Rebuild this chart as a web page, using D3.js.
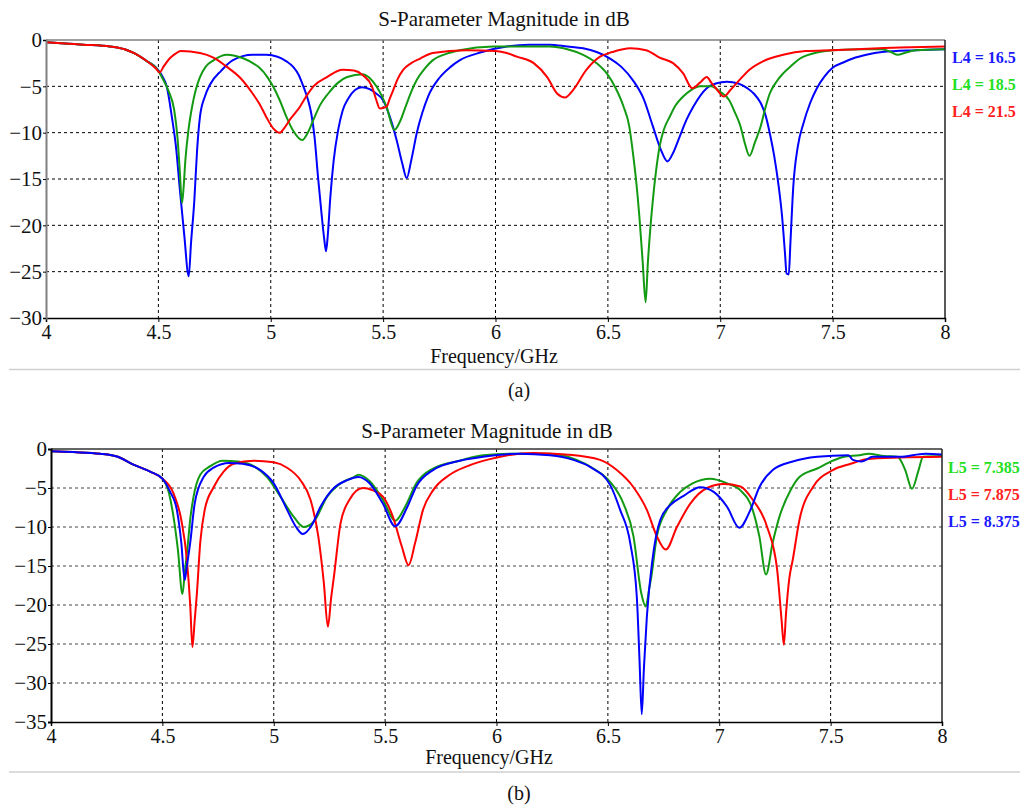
<!DOCTYPE html>
<html>
<head>
<meta charset="utf-8">
<script src="https://cdn.jsdelivr.net/npm/d3@7"></script>
<style>
  body { margin: 0; background: #fff; }
  svg { display: block; }
  svg text { font-family: "Liberation Serif", "Times New Roman", Times, serif !important; }
  .grid line { stroke-width: 1; stroke-dasharray: 3,3; }
  .curve { fill: none; stroke-width: 2; stroke-linejoin: round; }
</style>
</head>
<body>
<svg id="chart" width="1025" height="808"></svg>
<script>
// ---- data (frequency GHz, S11 dB) ----
const freqTicks = [4, 4.5, 5, 5.5, 6, 6.5, 7, 7.5, 8];
const dbTicksA = [0, -5, -10, -15, -20, -25, -30];
const dbTicksB = [0, -5, -10, -15, -20, -25, -30, -35];

const legendA = ["L4 = 16.5", "L4 = 18.5", "L4 = 21.5"];
const legendB = ["L5 = 7.385", "L5 = 7.875", "L5 = 8.375"];

const a_L4_165 = [[4.00,-0.25],[4.10,-0.4],[4.165,-0.5],[4.285,-0.7],[4.35,-1.0],[4.39,-1.4],[4.45,-2.3],[4.49,-3.0],
  [4.52,-4.0],[4.537,-5.0],[4.56,-8.3],[4.58,-11.9],[4.595,-16],[4.615,-21],[4.635,-25.5],[4.645,-22],[4.66,-17.3],
  [4.672,-12],[4.685,-8.3],[4.707,-6.1],[4.73,-4.8],[4.78,-3.3],[4.83,-2.2],[4.92,-1.6],[4.98,-1.6],[5.03,-1.8],
  [5.07,-2.3],[5.10,-2.9],[5.125,-3.8],[5.145,-5.0],[5.165,-6.4],[5.18,-7.9],[5.195,-10.5],[5.21,-14.7],[5.225,-18.5],
  [5.238,-21.5],[5.246,-22.8],[5.254,-21],[5.265,-17],[5.28,-13],[5.30,-9.7],[5.32,-7.6],[5.345,-6.3],[5.375,-5.4],
  [5.405,-5.1],[5.44,-5.3],[5.47,-5.8],[5.50,-6.5],[5.53,-8.3],[5.56,-10.8],[5.585,-13.3],[5.605,-14.9],[5.625,-13],
  [5.65,-10],[5.675,-7.8],[5.70,-6.1],[5.75,-4.1],[5.80,-2.9],[5.84,-2.2],[5.94,-1.3],[6.05,-0.7],[6.15,-0.5],
  [6.24,-0.5],[6.32,-0.7],[6.39,-0.9],[6.45,-1.3],[6.51,-2.0],[6.56,-2.9],[6.61,-4.3],[6.66,-6.4],[6.70,-9.3],
  [6.735,-11.8],[6.765,-13.1],[6.79,-12.2],[6.82,-10.4],[6.85,-8.6],[6.88,-7.2],[6.94,-5.2],[6.98,-4.7],[7.03,-4.5],
  [7.08,-4.7],[7.12,-5.2],[7.15,-5.8],[7.18,-6.8],[7.20,-8.0],[7.22,-10],[7.24,-12.5],[7.26,-15.8],[7.275,-19],
  [7.288,-23],[7.295,-25.2],[7.305,-25.3],[7.312,-22],[7.325,-15.8],[7.345,-11.5],[7.37,-9.0],[7.40,-6.8],[7.43,-5.2],
  [7.465,-3.9],[7.50,-3.0],[7.55,-2.4],[7.59,-2.0],[7.65,-1.6],[7.72,-1.3],[7.87,-1.1],[8.0,-1.0]];

const a_L4_185 = [[4.00,-0.25],[4.10,-0.4],[4.165,-0.5],[4.285,-0.7],[4.35,-1.0],[4.39,-1.4],[4.45,-2.3],[4.49,-3.0],
  [4.52,-4.2],[4.545,-5.5],[4.57,-7.5],[4.585,-10.5],[4.595,-14],[4.605,-17.6],[4.612,-16],[4.62,-13],[4.635,-9.5],
  [4.65,-7.2],[4.665,-5.5],[4.685,-4.0],[4.71,-2.9],[4.745,-2.2],[4.805,-1.6],[4.84,-1.7],[4.88,-2.0],[4.92,-2.5],
  [4.95,-3.0],[4.985,-4.0],[5.01,-5.0],[5.04,-6.5],[5.07,-8.3],[5.10,-9.8],[5.14,-10.8],[5.165,-10],[5.19,-8.6],
  [5.22,-7.0],[5.255,-5.8],[5.30,-4.6],[5.34,-4.0],[5.41,-3.7],[5.435,-4.0],[5.455,-4.5],[5.485,-5.6],[5.515,-7.2],
  [5.55,-9.7],[5.575,-8.8],[5.60,-7.2],[5.625,-5.6],[5.65,-4.3],[5.685,-3.1],[5.72,-2.2],[5.78,-1.5],[5.84,-1.1],
  [5.99,-0.7],[6.24,-0.7],[6.32,-1.0],[6.39,-1.6],[6.45,-2.5],[6.495,-3.6],[6.535,-5.2],[6.57,-7.2],[6.595,-9.3],
  [6.61,-11.9],[6.625,-15],[6.64,-19],[6.655,-24],[6.668,-28.3],[6.678,-24],[6.69,-20],[6.70,-17.3],[6.715,-14],
  [6.73,-11.5],[6.75,-9.6],[6.775,-8.3],[6.80,-7.1],[6.835,-6.1],[6.87,-5.4],[6.91,-5.0],[6.96,-5.0],[7.00,-5.6],
  [7.04,-6.5],[7.065,-7.8],[7.09,-9.3],[7.11,-11.2],[7.13,-12.5],[7.155,-11],[7.18,-9.3],[7.20,-7.4],[7.22,-5.8],
  [7.25,-4.5],[7.28,-3.6],[7.32,-2.7],[7.355,-2.0],[7.44,-1.3],[7.50,-1.1],[7.65,-1.0],[7.72,-1.0],[7.76,-1.3],
  [7.79,-1.6],[7.82,-1.4],[7.87,-1.1],[8.0,-1.0]];

const a_L4_215 = [[4.00,-0.25],[4.10,-0.4],[4.165,-0.5],[4.285,-0.7],[4.35,-1.0],[4.39,-1.4],[4.45,-2.3],[4.49,-3.1],
  [4.505,-3.5],[4.525,-2.8],[4.55,-2.0],[4.575,-1.5],[4.60,-1.2],[4.685,-1.4],[4.745,-1.9],[4.805,-2.9],[4.865,-4.1],
  [4.92,-5.8],[4.95,-6.9],[4.98,-8.3],[5.01,-9.5],[5.04,-10],[5.06,-9.5],[5.085,-8.6],[5.13,-7.2],[5.16,-6.0],
  [5.19,-5.0],[5.25,-4.0],[5.32,-3.2],[5.37,-3.3],[5.41,-3.8],[5.45,-5.0],[5.47,-6.5],[5.485,-7.4],[5.515,-7.2],
  [5.53,-6.3],[5.545,-5.4],[5.565,-4.2],[5.59,-3.2],[5.625,-2.5],[5.665,-2.0],[5.72,-1.4],[5.87,-1.1],[6.0,-1.2],
  [6.05,-1.4],[6.095,-1.8],[6.17,-2.5],[6.23,-4.0],[6.275,-5.8],[6.31,-6.2],[6.345,-5.4],[6.405,-3.2],[6.465,-1.8],
  [6.52,-1.3],[6.60,-0.9],[6.67,-1.1],[6.73,-1.9],[6.79,-2.5],[6.835,-3.6],[6.875,-5.2],[6.91,-4.6],[6.94,-4.0],
  [6.96,-4.6],[6.99,-5.5],[7.015,-6.1],[7.045,-5.4],[7.075,-4.6],[7.13,-3.2],[7.19,-2.3],[7.28,-1.6],[7.38,-1.2],
  [7.50,-1.1],[7.80,-0.8],[8.0,-0.7]];

const b_L5_7385 = [[4.00,-0.3],[4.10,-0.4],[4.22,-0.6],[4.30,-1.0],[4.37,-2.0],[4.445,-2.9],[4.50,-3.8],[4.53,-5.7],
  [4.55,-8.7],[4.57,-13],[4.59,-18.6],[4.60,-16],[4.615,-12],[4.625,-9],[4.64,-6.1],[4.67,-3.3],[4.715,-2.2],
  [4.77,-1.5],[4.84,-1.6],[4.91,-2.2],[4.97,-3.6],[5.03,-6.1],[5.09,-8.7],[5.135,-10.0],[5.18,-9.3],[5.24,-6.1],
  [5.30,-4.4],[5.36,-3.6],[5.38,-3.3],[5.43,-4.1],[5.49,-6.5],[5.545,-9.2],[5.59,-7.4],[5.64,-4.4],[5.715,-2.5],
  [5.835,-1.5],[5.94,-0.8],[6.1,-0.6],[6.24,-0.6],[6.36,-1.4],[6.435,-2.5],[6.51,-4.2],[6.57,-7.0],[6.615,-11.2],
  [6.65,-18.5],[6.67,-20.2],[6.685,-18],[6.695,-16.4],[6.72,-11.2],[6.765,-7.8],[6.825,-5.5],[6.88,-4.4],[6.96,-3.8],
  [7.035,-4.4],[7.095,-5.3],[7.15,-7.8],[7.18,-11.2],[7.21,-16.1],[7.24,-12],[7.27,-8.7],[7.32,-5.3],[7.36,-3.6],
  [7.44,-2.5],[7.51,-1.5],[7.56,-1.0],[7.63,-0.8],[7.67,-0.6],[7.74,-0.9],[7.80,-1.0],[7.835,-2.7],[7.865,-5.1],
  [7.895,-2.7],[7.915,-1.0],[8.0,-0.9]];

const b_L5_7875 = [[4.00,-0.3],[4.10,-0.4],[4.22,-0.6],[4.30,-1.0],[4.37,-2.0],[4.445,-2.9],[4.50,-3.8],[4.55,-5.7],
  [4.585,-9.1],[4.61,-14.2],[4.625,-20],[4.635,-25.4],[4.645,-22],[4.655,-18.5],[4.67,-12],[4.69,-7.8],[4.73,-4.9],
  [4.775,-2.9],[4.82,-1.9],[4.91,-1.5],[5.0,-1.7],[5.06,-2.4],[5.12,-4.0],[5.165,-6.5],[5.20,-11.2],[5.225,-17.2],
  [5.243,-22.8],[5.258,-19],[5.27,-16.4],[5.30,-9.5],[5.34,-6.5],[5.40,-5.0],[5.445,-5.3],[5.49,-6.1],[5.535,-8.7],
  [5.575,-12.5],[5.605,-14.9],[5.635,-12],[5.67,-7.8],[5.715,-5.3],[5.79,-3.3],[5.87,-2.2],[5.97,-1.3],[6.05,-0.8],
  [6.165,-0.5],[6.31,-0.7],[6.465,-1.4],[6.54,-2.7],[6.615,-4.9],[6.675,-7.8],[6.72,-11.2],[6.76,-12.9],[6.81,-10],
  [6.87,-7.0],[6.945,-5.0],[7.02,-4.5],[7.095,-4.8],[7.15,-6.5],[7.215,-10],[7.26,-15.5],[7.28,-22],[7.29,-25.1],
  [7.30,-21],[7.315,-16.5],[7.33,-14.2],[7.36,-9.1],[7.42,-4.9],[7.51,-2.7],[7.59,-1.9],[7.66,-1.3],[7.81,-1.1],
  [8.0,-1.0]];

const b_L5_8375 = [[4.00,-0.3],[4.10,-0.4],[4.22,-0.6],[4.30,-1.0],[4.37,-2.0],[4.445,-2.9],[4.50,-3.8],[4.535,-5.5],
  [4.565,-7.8],[4.585,-12],[4.60,-16.8],[4.61,-15],[4.625,-12],[4.645,-7],[4.685,-3.6],[4.73,-2.4],[4.80,-1.8],
  [4.86,-1.9],[4.94,-2.7],[5.0,-4.4],[5.06,-7.8],[5.10,-10],[5.13,-10.9],[5.17,-9.8],[5.21,-7.4],[5.27,-5.0],
  [5.33,-4.0],[5.38,-3.6],[5.43,-4.4],[5.49,-7.0],[5.545,-9.9],[5.60,-7.4],[5.64,-4.8],[5.715,-2.7],[5.835,-1.5],
  [5.94,-1.0],[6.1,-0.6],[6.24,-0.8],[6.345,-1.4],[6.42,-2.3],[6.51,-4.6],[6.555,-7.8],[6.60,-12],[6.63,-19],
  [6.642,-27],[6.652,-34],[6.662,-28],[6.675,-21.5],[6.70,-14.2],[6.735,-9.1],[6.78,-7.2],[6.84,-6.0],[6.915,-4.9],
  [6.975,-5.5],[7.035,-7.4],[7.09,-10.1],[7.14,-7.8],[7.18,-4.9],[7.24,-2.7],[7.33,-1.6],[7.44,-1.0],[7.58,-0.8],
  [7.60,-1.4],[7.64,-1.6],[7.69,-1.0],[7.81,-1.0],[7.925,-0.6],[8.0,-0.7]];

const blue = "#0000ff", green = "#139a13", red = "#ff0000";
const blueText = "#1a1aff", greenText = "#22e022", redText = "#ff2020";

const svg = d3.select("#chart");

function drawPanel(p) {
  const x = d3.scaleLinear().domain([4, 8]).range([p.left, p.right]);
  const y = d3.scaleLinear().domain([0, p.yMin]).range([p.top, p.bottom]);
  const g = svg.append("g");

  // grid
  const grid = g.append("g").attr("class", "grid");
  grid.selectAll(".gx").data(freqTicks.slice(1, -1)).join("line")
    .attr("x1", d => x(d)).attr("x2", d => x(d))
    .attr("y1", p.top).attr("y2", p.bottom)
    .attr("stroke", "#000");
  grid.selectAll(".gy").data(p.yTicks.slice(1, -1)).join("line")
    .attr("x1", p.left).attr("x2", p.right)
    .attr("y1", d => y(d)).attr("y2", d => y(d))
    .attr("stroke", p.hGrid);

  // curves
  const line = d3.line().x(d => x(d[0])).y(d => y(d[1])).curve(d3.curveMonotoneX);
  g.selectAll(".curve").data(p.series).join("path")
    .attr("class", "curve")
    .attr("stroke", d => d.color)
    .attr("d", d => line(d.values));

  // frame
  g.append("line").attr("x1", p.left).attr("x2", p.right).attr("y1", p.top).attr("y2", p.top)
    .attr("stroke", p.topColor).attr("stroke-width", 1.5);
  g.append("line").attr("x1", p.right).attr("x2", p.right).attr("y1", p.top).attr("y2", p.bottom)
    .attr("stroke", "#222").attr("stroke-width", 1.5);

  const xAxis = g.append("g").attr("transform", `translate(0,${p.bottom})`)
    .call(d3.axisBottom(x).tickValues(freqTicks).tickFormat(d3.format("")).tickSize(4).tickPadding(3));
  xAxis.select(".domain").attr("stroke", "#000").attr("stroke-width", 1.5);
  xAxis.selectAll("text").style("font-size", "20px").attr("fill", "#111");

  const yAxis = g.append("g").attr("transform", `translate(${p.left},0)`)
    .call(d3.axisLeft(y).tickValues(p.yTicks).tickFormat(d3.format("")).tickSize(3).tickPadding(1));
  yAxis.select(".domain").attr("stroke", p.leftColor).attr("stroke-width", 2);
  yAxis.selectAll("text").style("font-size", "21px").attr("fill", "#111");

  // title and axis label
  g.append("text").attr("x", p.titleX).attr("y", p.titleY).attr("text-anchor", "middle")
    .style("font-size", "21px").attr("fill", "#111").text("S-Parameter Magnitude in dB");
  g.append("text").attr("x", p.xLabelX).attr("y", p.xLabelY).attr("text-anchor", "middle")
    .style("font-size", "20px").attr("fill", "#111").text("Frequency/GHz");

  // legend
  g.selectAll(".leg").data(p.legend).join("text")
    .attr("x", p.legendX).attr("y", (d, i) => p.legendY + i * 27)
    .style("font-size", "16px").style("font-weight", "bold")
    .attr("fill", d => d.color).text(d => d.label);

  // separator and caption
  svg.append("line").attr("x1", 9).attr("x2", 1020).attr("y1", p.sepY).attr("y2", p.sepY)
    .attr("stroke", "#d0d0d0").attr("stroke-width", 1.5);
  svg.append("text").attr("x", 519).attr("y", p.capY).attr("text-anchor", "middle")
    .style("font-size", "20px").attr("fill", "#111").text(p.caption);
}

drawPanel({
  left: 46, right: 945, top: 40, bottom: 318, yMin: -30, yTicks: dbTicksA,
  hGrid: "#000", topColor: "#808080", leftColor: "#808080",
  series: [
    { color: blue, values: a_L4_165 },
    { color: green, values: a_L4_185 },
    { color: red, values: a_L4_215 }
  ],
  legend: [
    { label: legendA[0], color: blueText },
    { label: legendA[1], color: greenText },
    { label: legendA[2], color: redText }
  ],
  legendX: 952, legendY: 63,
  titleX: 504, titleY: 26, xLabelX: 494, xLabelY: 363,
  sepY: 369.5, capY: 397, caption: "(a)"
});

drawPanel({
  left: 51, right: 942, top: 449, bottom: 722, yMin: -35, yTicks: dbTicksB,
  hGrid: "#444", topColor: "#333", leftColor: "#000",
  series: [
    { color: green, values: b_L5_7385 },
    { color: red, values: b_L5_7875 },
    { color: blue, values: b_L5_8375 }
  ],
  legend: [
    { label: legendB[0], color: greenText },
    { label: legendB[1], color: redText },
    { label: legendB[2], color: blueText }
  ],
  legendX: 948, legendY: 473,
  titleX: 487, titleY: 438, xLabelX: 489, xLabelY: 764,
  sepY: 772, capY: 800, caption: "(b)"
});
</script>
</body>
</html>
